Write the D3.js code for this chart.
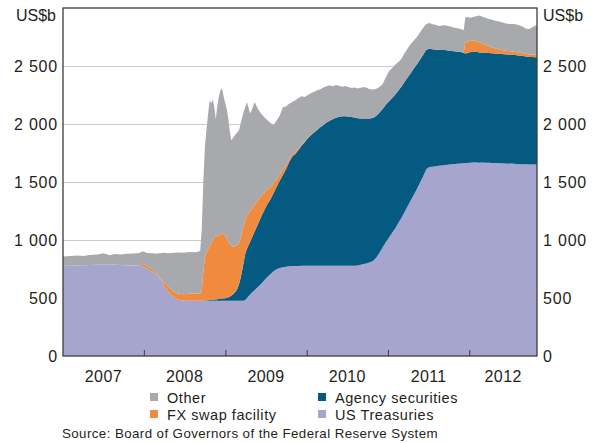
<!DOCTYPE html>
<html><head><meta charset="utf-8">
<script src="https://cdn.jsdelivr.net/npm/d3@7"></script>
<style>
body{margin:0;background:#fff}
svg text{font-family:"Liberation Sans",Arial,sans-serif;fill:#231f20}
</style>
</head><body>
<svg id="chart" width="599" height="443"></svg>
<script>
// ---------- DATA (US$b) ----------
const dates = [
 "2007-01-03","2007-02-07","2007-03-07","2007-04-04","2007-05-02","2007-06-06","2007-07-04","2007-08-01","2007-08-22","2007-09-19","2007-10-17","2007-11-14","2007-12-12","2007-12-26","2008-01-16","2008-02-06","2008-02-27","2008-03-19","2008-04-02","2008-04-16","2008-05-07","2008-05-28","2008-06-25","2008-07-23","2008-08-20","2008-09-10",
 "2008-09-17","2008-09-24","2008-10-01","2008-10-08","2008-10-15","2008-10-22","2008-10-29","2008-11-05","2008-11-12","2008-11-19","2008-11-26","2008-12-03","2008-12-10","2008-12-17","2008-12-24","2008-12-31","2009-01-07","2009-01-14","2009-01-21","2009-01-28","2009-02-04","2009-02-11","2009-02-18","2009-02-25","2009-03-04","2009-03-11","2009-03-18","2009-03-25","2009-04-01","2009-04-08","2009-04-15","2009-04-22","2009-04-29",
 "2009-05-13","2009-05-27","2009-06-10","2009-06-24","2009-07-08","2009-07-22","2009-08-05","2009-08-19","2009-09-02","2009-09-16","2009-09-30","2009-10-14","2009-10-28","2009-11-11","2009-11-25","2009-12-09","2009-12-23",
 "2010-01-06","2010-01-20","2010-02-03","2010-02-17","2010-03-03","2010-03-17","2010-03-31","2010-04-14","2010-04-28","2010-05-12","2010-05-26","2010-06-09","2010-06-23","2010-07-07","2010-07-21","2010-08-04","2010-08-18","2010-09-01","2010-09-15","2010-09-29","2010-10-13","2010-10-27","2010-11-10","2010-11-24","2010-12-08","2010-12-22",
 "2011-01-05","2011-01-19","2011-02-02","2011-02-16","2011-03-02","2011-03-16","2011-03-30","2011-04-13","2011-04-27","2011-05-11","2011-05-25","2011-06-08","2011-06-22","2011-07-06","2011-07-20","2011-08-03","2011-08-17","2011-08-31","2011-09-14","2011-09-28","2011-10-12","2011-10-26","2011-11-09","2011-11-23","2011-12-07","2011-12-14","2011-12-21",
 "2012-01-04","2012-01-18","2012-02-01","2012-02-15","2012-02-29","2012-03-14","2012-03-28","2012-04-11","2012-04-25","2012-05-09","2012-05-23","2012-06-06","2012-06-20","2012-07-04","2012-07-18","2012-08-01","2012-08-15","2012-08-29","2012-09-12","2012-09-26","2012-10-10","2012-10-24","2012-10-31"
];
const usTreasuries = [
 778,779,780,781,784,786,789,790,788,784,781,780,779,776,752,725,700,650,600,565,520,490,478,476,476,476,
 476,476,476,476,476,476,476,476,476,476,476,476,476,476,476,476,476,476,476,476,476,476,476,476,476,476,476,476,485,500,515,530,545,
 570,595,620,650,680,705,730,748,758,765,770,773,775,776,776,777,777,
 777,777,777,777,777,777,777,777,777,777,777,777,777,777,777,777,780,786,793,800,808,822,850,890,935,980,
 1020,1060,1100,1145,1190,1240,1290,1340,1390,1440,1495,1550,1610,1630,1632,1636,1640,1643,1646,1649,1652,1655,1658,1660,1662,1663,1664,
 1666,1668,1668,1667,1668,1666,1665,1664,1663,1662,1662,1660,1658,1660,1657,1655,1654,1653,1652,1650,1651,1650,1650
];
const agencySecurities = [
 0,0,0,0,0,0,0,0,0,0,0,0,0,0,0,0,0,0,0,0,0,0,0,0,0,0,
 0,2,3,4,5,6,7,8,10,12,14,16,18,19,20,22,25,30,35,45,55,70,85,110,150,200,270,340,403,425,440,455,470,
 505,540,579,604,629,645,674,710,752,795,840,897,945,965,1000,1035,1065,
 1100,1125,1150,1172,1195,1215,1235,1252,1265,1277,1285,1290,1290,1287,1283,1278,1270,1262,1255,1248,1240,1232,1222,1210,1195,1185,
 1175,1165,1152,1142,1132,1122,1110,1098,1088,1075,1062,1048,1030,1018,1012,1005,1000,995,992,985,978,972,965,960,952,945,945,
 952,958,955,950,948,948,947,946,945,944,942,942,942,940,940,938,935,933,930,928,927,926,925
];
const fxSwapFacility = [
 0,0,0,0,0,0,0,0,0,0,0,0,0,20,24,20,10,8,30,40,45,50,55,60,62,62,
 90,250,370,410,440,460,490,520,535,540,545,550,555,560,555,540,510,480,455,430,410,400,390,370,355,340,338,311,292,285,275,262,250,
 230,205,180,150,125,105,85,65,55,45,35,25,20,16,13,10,8,
 6,4,2,1,0,0,0,0,0,0,0,0,0,0,0,0,0,0,0,0,0,0,0,0,0,0,
 0,0,0,0,0,0,0,0,0,0,0,0,0,0,0,0,0,0,0,0,0,0,0,0,0,95,100,
 98,95,92,88,80,70,60,52,45,40,35,32,30,28,27,26,25,24,23,22,21,20,20
];
const other = [
 80,84,86,81,87,88,97,79,92,92,100,104,108,107,112,140,174,229,261,281,324,353,357,361,357,367,
 534,772,951,1060,1159,1258,1207,1206,1129,1012,1125,1198,1241,1251,1189,1142,1119,1064,964,909,939,954,966,974,969,994,976,983,970,979,910,843,855,
 884,790,711,656,601,555,501,507,509,540,505,479,450,448,436,418,382,
 367,359,349,340,328,323,313,304,284,282,268,255,261,254,250,260,255,264,270,262,252,244,231,220,215,235,
 260,255,258,248,238,248,250,252,242,235,233,232,223,222,216,214,205,212,214,211,208,203,202,198,196,212,216,
 199,201,213,230,229,231,233,238,237,239,241,236,235,234,239,239,236,228,217,220,236,254,250
];
const seriesNames = ["US Treasuries","Agency securities","FX swap facility","Other"];
const seriesColors = ["#a5a5cd","#055a82","#f08a3c","#a7a9ac"];
const yearLabels = ["2007","2008","2009","2010","2011","2012"];
const yTicks = [0,500,1000,1500,2000,2500];
const unitLabel = "US$b";
const sourceText = "Source: Board of Governors of the Federal Reserve System";
const legendOrder = ["Other","Agency securities","FX swap facility","US Treasuries"];

// ---------- CHART ----------
const parse = d3.timeParse("%Y-%m-%d");
const L = 63, R = 537, T = 8, B = 356;
const svg = d3.select("#chart");

const x = d3.scaleTime().domain([parse(dates[0]), parse(dates[dates.length-1])]).range([L, R]);
const y = d3.scaleLinear().domain([0, 3000]).range([B, T]);
const color = d3.scaleOrdinal().domain(seriesNames).range(seriesColors);

const valuesBySeries = {
  "US Treasuries": usTreasuries,
  "Agency securities": agencySecurities,
  "FX swap facility": fxSwapFacility,
  "Other": other
};
const rows = dates.map((d, i) => {
  const r = {date: parse(d)};
  seriesNames.forEach(k => r[k] = valuesBySeries[k][i]);
  return r;
});
const stacked = d3.stack().keys(seriesNames)(rows);

// gridlines
svg.append("g")
  .attr("transform", `translate(${L},0)`)
  .call(d3.axisRight(y).tickValues(yTicks.filter(v => v > 0)).tickSize(R - L).tickFormat(""))
  .call(g => g.select(".domain").remove())
  .call(g => g.selectAll("line").attr("stroke", "#cccccc").attr("stroke-width", 1));

// areas
svg.append("defs").append("clipPath").attr("id", "plotclip")
  .append("rect").attr("x", L).attr("y", T).attr("width", R - L).attr("height", B - T);
const area = d3.area()
  .x(d => x(d.data.date))
  .y0(d => y(d[0]))
  .y1(d => y(d[1]));
svg.append("g").attr("clip-path", "url(#plotclip)")
  .selectAll("path").data(stacked).join("path")
  .attr("fill", d => color(d.key))
  .attr("d", area);

// x ticks (year boundaries)
const yearStarts = yearLabels.slice(1).map(y0 => parse(y0 + "-01-01"));
svg.append("g")
  .attr("transform", `translate(0,${B})`)
  .call(d3.axisBottom(x).tickValues(yearStarts).tickSize(-6).tickFormat(""))
  .call(g => g.select(".domain").remove())
  .call(g => g.selectAll("line").attr("stroke", "#3c3c3c").attr("stroke-width", 1));

// frame
svg.append("rect")
  .attr("x", L).attr("y", T).attr("width", R - L).attr("height", B - T)
  .attr("fill", "none").attr("stroke", "#3c3c3c").attr("stroke-width", 1.3);

// y labels
const fmt = d3.formatLocale({thousands: " ", grouping: [3], decimal: ".", currency: ["", ""]}).format(",");
function styleLabels(g) {
  g.select(".domain").remove();
  g.attr("font-family", null).attr("font-size", null);
  g.selectAll("text").attr("font-size", 16).attr("letter-spacing", 0.8).attr("fill", "#231f20");
}
svg.append("g").attr("transform", `translate(${L},0)`)
  .call(d3.axisLeft(y).tickValues(yTicks).tickSize(0).tickPadding(5).tickFormat(fmt))
  .call(styleLabels);
svg.append("g").attr("transform", `translate(${R},0)`)
  .call(d3.axisRight(y).tickValues(yTicks).tickSize(0).tickPadding(6).tickFormat(fmt))
  .call(styleLabels);

svg.append("text").attr("x", L - 7).attr("y", 21).attr("text-anchor", "end").attr("font-size", 16).text(unitLabel);
svg.append("text").attr("x", R + 6).attr("y", 21).attr("text-anchor", "start").attr("font-size", 16).text(unitLabel);

// year labels
const [d0, d1] = x.domain();
svg.append("g").selectAll("text").data(yearLabels).join("text")
  .attr("x", yl => {
    const a = new Date(Math.max(parse(yl + "-01-01"), d0));
    const b = new Date(Math.min(parse((+yl + 1) + "-01-01"), d1));
    return (x(a) + x(b)) / 2;
  })
  .attr("y", 382)
  .attr("text-anchor", "middle")
  .attr("font-size", 16)
  .attr("letter-spacing", 0.4)
  .text(d => d);

// legend
const legPos = {
  "Other": [150, 393],
  "Agency securities": [318, 393],
  "FX swap facility": [150, 410],
  "US Treasuries": [318, 410]
};
const leg = svg.append("g").selectAll("g").data(legendOrder).join("g")
  .attr("transform", d => `translate(${legPos[d][0]},${legPos[d][1]})`);
leg.append("rect").attr("width", 8).attr("height", 8).attr("fill", d => color(d));
leg.append("text").attr("x", 17).attr("y", 9.5).attr("font-size", 14.5).attr("letter-spacing", 0.55).text(d => d);

// source
svg.append("text").attr("x", 62).attr("y", 438).attr("font-size", 13.3).attr("letter-spacing", 0.42).text(sourceText);
</script>
</body></html>
